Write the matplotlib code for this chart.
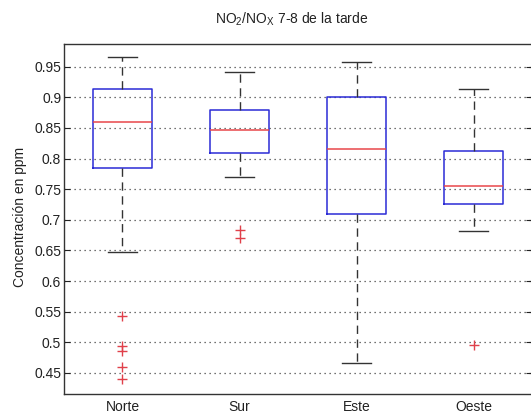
import matplotlib
matplotlib.use("Agg")
import matplotlib.pyplot as plt

plt.rcParams['font.family'] = ['Liberation Sans', 'DejaVu Sans']
plt.rcParams['mathtext.fontset'] = 'custom'
plt.rcParams['mathtext.rm'] = 'Liberation Sans'

categories = ["Norte", "Sur", "Este", "Oeste"]
whislo = [0.647, 0.770, 0.466, 0.681]
q1 = [0.784, 0.809, 0.709, 0.725]
med = [0.860, 0.847, 0.816, 0.755]
q3 = [0.914, 0.880, 0.901, 0.812]
whishi = [0.965, 0.942, 0.958, 0.914]
fliers = [
    [0.543, 0.494, 0.486, 0.460, 0.440],
    [0.684, 0.671],
    [],
    [0.496],
]
yticks = [0.45, 0.5, 0.55, 0.6, 0.65, 0.7, 0.75, 0.8, 0.85, 0.9, 0.95]
ytick_labels = ["0.45", "0.5", "0.55", "0.6", "0.65", "0.7", "0.75", "0.8", "0.85", "0.9", "0.95"]

stats = []
for i, c in enumerate(categories):
    stats.append(dict(label=c, whislo=whislo[i], q1=q1[i], med=med[i], q3=q3[i],
                      whishi=whishi[i], fliers=fliers[i]))

fig = plt.figure(figsize=(5.31, 4.18), dpi=100)
ax = fig.add_axes([0.1205, 0.0574, 0.8815, 0.8373])

ax.bxp(stats, positions=[1, 2, 3, 4], widths=0.5, showfliers=True,
       boxprops=dict(color='#2b2bd6', linewidth=1.1),
       medianprops=dict(color='#e8474a', linewidth=1.1),
       whiskerprops=dict(color='#333333', linewidth=1.0, linestyle=(0, (6, 4))),
       capprops=dict(color='#333333', linewidth=1.0),
       flierprops=dict(marker='+', markeredgecolor='#e0404a', markersize=7, markeredgewidth=1.0, linestyle='none'))

ax.set_xlim(0.5, 4.5)
ax.set_ylim(0.4156, 0.987)
ax.set_yticks(yticks)
ax.set_yticklabels(ytick_labels)
ax.yaxis.grid(True, linestyle=(0, (1, 3)), color='#444444', linewidth=0.9)
ax.set_axisbelow(True)
ax.tick_params(axis='both', direction='in', labelsize=10, colors='#222222', length=4)
ax.tick_params(axis='y', right=True, pad=2)
ax.tick_params(axis='x', length=0, pad=4)
for s in ax.spines.values():
    s.set_color('#333333')
    s.set_linewidth(1.0)

ax.set_ylabel("Concentración en ppm", fontsize=10, color='#222222')
ax.yaxis.set_label_coords(-0.079, 0.505)
fig.text(0.55, 0.953, r"NO$_\mathrm{2}$/NO$_\mathrm{X}$ 7-8 de la tarde", ha='center', va='center',
         fontsize=10, color='#222222')

fig.savefig("out.png", dpi=100)
